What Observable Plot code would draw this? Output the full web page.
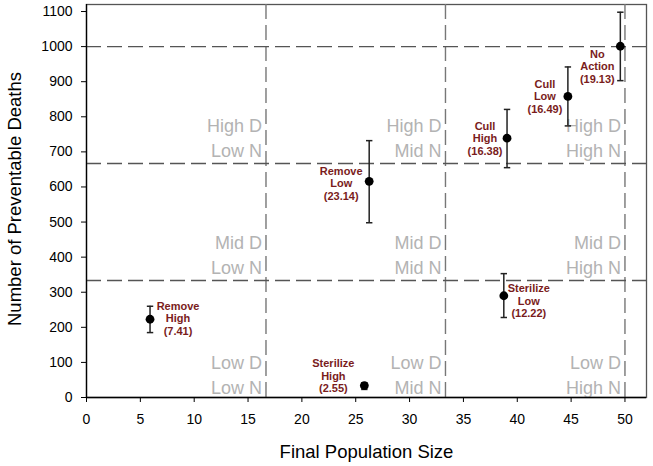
<!DOCTYPE html>
<html><head><meta charset="utf-8">
<script src="https://cdn.jsdelivr.net/npm/d3@7"></script>
<script src="https://cdn.jsdelivr.net/npm/@observablehq/plot@0.6"></script>
<style>body{margin:0;background:#fff}</style>
</head><body><div id="chart"></div>
<script>
// ---- data ----
const strategy = ["Remove", "Sterilize", "Sterilize", "Remove", "Cull", "Cull", "No"];
const level = ["High", "High", "Low", "Low", "High", "Low", "Action"];
const score = [7.41, 2.55, 12.22, 23.14, 16.38, 16.49, 19.13];
const popSize = [5.9, 25.8, 38.75, 26.25, 39.05, 44.7, 49.57];
const deaths = [223, 34, 290, 616, 739, 858, 1001];
const deathsLow = [185, 23, 228, 498, 655, 774, 903];
const deathsHigh = [260, 42, 353, 732, 821, 942, 1098];

const xCuts = [50 / 3, 100 / 3, 50];
const yCuts = [1000 / 3, 2000 / 3, 1000];
const dLevels = ["Low D", "Mid D", "High D"];
const nLevels = ["Low N", "Mid N", "High N"];
const xTicks = [0, 5, 10, 15, 20, 25, 30, 35, 40, 45, 50];
const yTicks = [0, 100, 200, 300, 400, 500, 600, 700, 800, 900, 1000, 1100];

// ---- styling (label offsets in pixels) ----
const labelOffsets = [[28, -1], [-31, -10], [25, 5], [-28, 2], [-22, 0], [-23, 0], [-23, 20]];
const regionRowDy = [-4, -7, -7];

const points = strategy.map((s, i) => ({
  x: popSize[i], y: deaths[i], lo: deathsLow[i], hi: deathsHigh[i],
  label: `${s}\n${level[i]}\n(${score[i].toFixed(2)})`
}));
const regionBottoms = [0, yCuts[0], yCuts[1]];
const regionMarks = dLevels.map((d, r) => Plot.text(
  nLevels.map((n, c) => ({x: xCuts[c], y: regionBottoms[r], label: `${d}\n${n}`})),
  {x: "x", y: "y", text: "label", textAnchor: "end", lineAnchor: "bottom",
   dx: -4, dy: regionRowDy[r], fontSize: 18, lineHeight: 1.36, fill: "#b3b3b3"}));

const capSymbol = {draw(ctx) { ctx.moveTo(-3.2, 0); ctx.lineTo(3.2, 0); }};

const marks = [
  Plot.frame({stroke: "#555", strokeWidth: 1.3}),
  Plot.ruleX(xCuts, {stroke: "#777", strokeWidth: 1.4, strokeDasharray: "15,6"}),
  Plot.ruleY(yCuts, {stroke: "#555", strokeWidth: 1.4, strokeDasharray: "15,6"}),
  ...regionMarks,
  Plot.ruleX(points, {x: "x", y1: "lo", y2: "hi", stroke: "#222", strokeWidth: 1.5}),
  Plot.dot(points, {x: "x", y: "lo", symbol: capSymbol, r: 3, stroke: "#222", strokeWidth: 1.5, fill: "none"}),
  Plot.dot(points, {x: "x", y: "hi", symbol: capSymbol, r: 3, stroke: "#222", strokeWidth: 1.5, fill: "none"}),
  Plot.dot(points, {x: "x", y: "y", r: 4.4, fill: "black", stroke: "none"}),
  ...points.map((p, i) => Plot.text([p], {x: "x", y: "y", text: "label",
    dx: labelOffsets[i][0], dy: labelOffsets[i][1], fontSize: 11, fontWeight: "bold",
    lineHeight: 1.14, fill: "#7a1c1c"})),
  Plot.ruleX([0], {stroke: "black", strokeWidth: 1.3}),
  Plot.ruleY([0], {stroke: "black", strokeWidth: 1.3}),
  Plot.axisX({ticks: xTicks, tickSize: 5, tickPadding: 12, fontSize: 14, label: null, tickFormat: d => String(d)}),
  Plot.axisY({ticks: yTicks, tickSize: 5, tickPadding: 9, fontSize: 14, label: null, tickFormat: d => String(d)}),
  Plot.text(["Final Population Size"], {frameAnchor: "bottom", lineAnchor: "middle", textAnchor: "middle", dy: 55, fontSize: 18.5, fill: "black"}),
  Plot.text(["Number of Preventable Deaths"], {frameAnchor: "left", textAnchor: "middle", lineAnchor: "middle", rotate: -90, dx: -71, dy: -2, fontSize: 18.5, fill: "black"})
];

const chart = Plot.plot({
  width: 653,
  height: 466,
  marginLeft: 86,
  marginRight: 7,
  marginTop: 4,
  marginBottom: 69,
  x: {domain: [0, 52]},
  y: {domain: [0, 1120]},
  style: {fontFamily: "Arial, 'Liberation Sans', sans-serif", background: "white", color: "black"},
  marks
});
document.getElementById("chart").appendChild(chart);
</script>
</body></html>
